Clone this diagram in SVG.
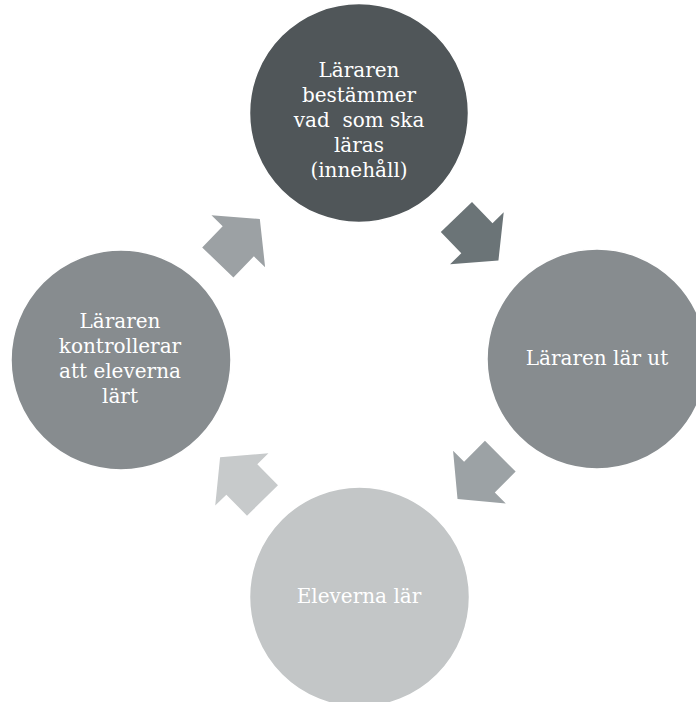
<svg xmlns="http://www.w3.org/2000/svg" xmlns:xlink="http://www.w3.org/1999/xlink" width="696" height="702" viewBox="0 0 696 702">
  <style>
    .node { stroke: #ffffff; stroke-width: 1.5; }
    .lbl { font-family: "DejaVu Serif", "Liberation Serif", serif; font-size: 20px; fill: #ffffff; text-anchor: middle; white-space: pre; }
  </style>
  <defs>
    <polygon id="arrow" points="0,-21.7 29.5,-21.7 29.5,-37.3 60.5,0 29.5,37.3 29.5,21.7 0,21.7"/>
  </defs>
  <rect x="0" y="0" width="696" height="702" fill="#ffffff"/>
  <g id="connectors">
    <use xlink:href="#arrow" href="#arrow" fill="#6b7477" transform="translate(456.4,217) rotate(46)"/>
    <use xlink:href="#arrow" href="#arrow" fill="#9ca2a5" transform="translate(500.3,456.2) rotate(135)"/>
    <use xlink:href="#arrow" href="#arrow" fill="#c7cacb" transform="translate(262.5,500.5) rotate(225.5)"/>
    <use xlink:href="#arrow" href="#arrow" fill="#9ca1a4" transform="translate(217.8,262.5) rotate(-46)"/>
  </g>
  <g id="node-top">
    <circle class="node" cx="359" cy="113" r="109.5" fill="#505659"/>
    <text class="lbl" x="359" y="77">Läraren</text>
    <text class="lbl" x="359" y="102">bestämmer</text>
    <text class="lbl" x="359" y="127">vad  som ska</text>
    <text class="lbl" x="359" y="152">läras</text>
    <text class="lbl" x="359" y="177">(innehåll)</text>
  </g>
  <g id="node-right">
    <circle class="node" cx="597" cy="359" r="110" fill="#878c8f"/>
    <text class="lbl" x="597" y="365">Läraren lär ut</text>
  </g>
  <g id="node-bottom">
    <circle class="node" cx="359.5" cy="597" r="110" fill="#c3c6c7"/>
    <text class="lbl" x="359" y="603">Eleverna lär</text>
  </g>
  <g id="node-left">
    <circle class="node" cx="121" cy="360" r="110" fill="#878c8f"/>
    <text class="lbl" x="120" y="327.5">Läraren</text>
    <text class="lbl" x="120" y="352.5">kontrollerar</text>
    <text class="lbl" x="120" y="377.5">att eleverna</text>
    <text class="lbl" x="120" y="402.5">lärt</text>
  </g>
</svg>
